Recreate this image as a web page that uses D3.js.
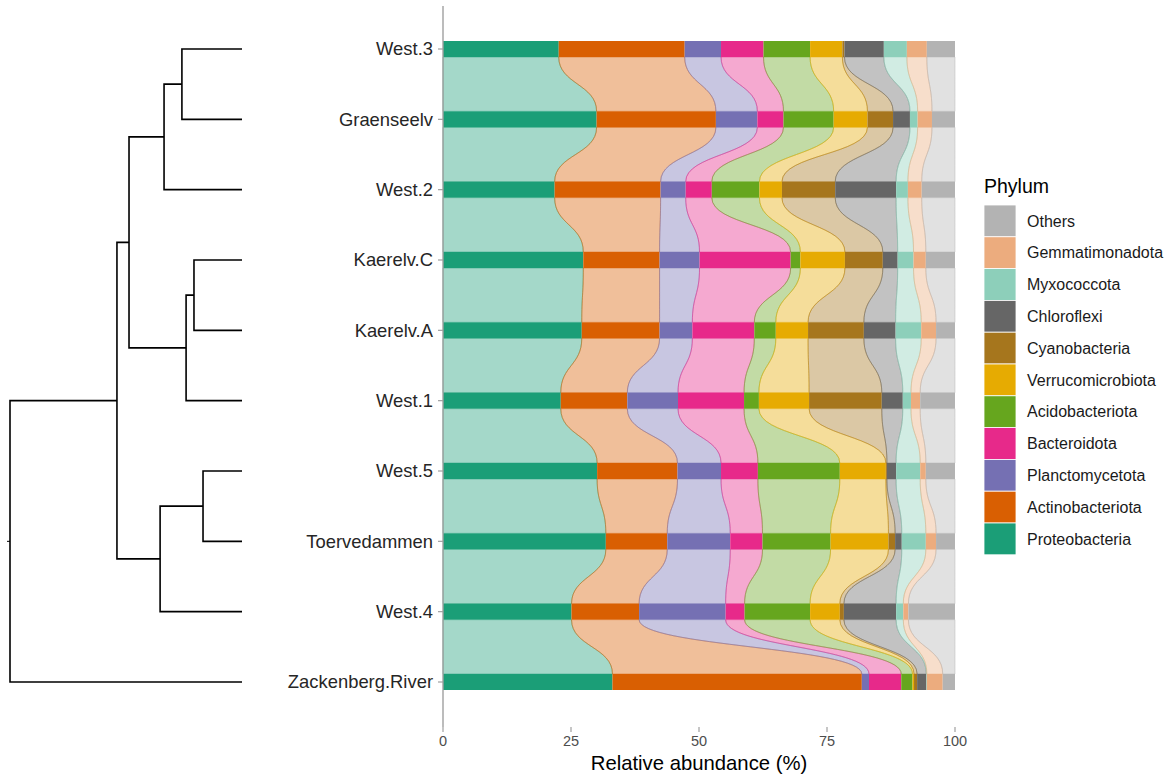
<!DOCTYPE html>
<html>
<head>
<meta charset="utf-8">
<script src="https://cdn.jsdelivr.net/npm/d3@7"></script>
<style>
  html, body { margin: 0; padding: 0; background: #ffffff; }
  svg { display: block; font-family: "Liberation Sans", Arial, Helvetica, sans-serif; }
</style>
</head>
<body>
<svg id="chart" width="1171" height="776"></svg>
<script>
// Samples, top to bottom (dendrogram leaf order)
const samples = ["West.3", "Graenseelv", "West.2", "Kaerelv.C", "Kaerelv.A",
                 "West.1", "West.5", "Toervedammen", "West.4", "Zackenberg.River"];

// Phyla in stacking order (left to right along each bar)
const phyla = ["Proteobacteria", "Actinobacteriota", "Planctomycetota", "Bacteroidota",
               "Acidobacteriota", "Verrucomicrobiota", "Cyanobacteria", "Chloroflexi",
               "Myxococcota", "Gemmatimonadota", "Others"];

const phylumColors = ["#1B9E77", "#D95F02", "#7570B3", "#E7298A", "#66A61E", "#E6AB02",
                      "#A6761D", "#666666", "#8DCFBA", "#ECAC7E", "#B3B3B3"];

// Relative abundance (%) per phylum, one value per sample in the order above
const proteobacteria    = [22.6, 30.0, 21.8, 27.4, 27.1, 23.0, 30.1, 31.8, 25.1, 33.1];
const actinobacteriota  = [24.6, 23.3, 20.7, 14.9, 15.2, 13.0, 15.7, 12.0, 13.2, 48.7];
const planctomycetota   = [ 7.1,  8.1,  4.9,  7.8,  6.4,  9.9,  8.5, 12.3, 16.9,  1.4];
const bacteroidota      = [ 8.3,  5.1,  5.1, 17.8, 12.1, 12.9,  7.2,  6.3,  3.7,  6.3];
const acidobacteriota   = [ 9.1,  9.8,  9.3,  1.9,  4.2,  2.9, 16.0, 13.3, 12.8,  2.2];
const verrucomicrobiota = [ 6.3,  6.6,  4.4,  8.7,  6.3,  9.8,  9.0, 11.3,  5.8,  0.3];
const cyanobacteria     = [ 0.4,  5.0, 10.4,  7.4, 10.9, 14.2,  0.2,  1.3,  0.8,  0.6];
const chloroflexi       = [ 7.7,  3.3, 11.9,  2.9,  6.2,  4.1,  1.8,  1.3, 10.2,  1.8];
const myxococcota       = [ 4.5,  1.5,  2.3,  3.1,  5.0,  1.6,  4.7,  4.7,  1.4,  0.1];
const gemmatimonadota   = [ 3.9,  2.8,  2.7,  2.4,  2.9,  1.8,  1.1,  2.0,  1.0,  3.1];
const others            = [ 5.5,  4.5,  6.5,  5.7,  3.7,  6.8,  5.7,  3.7,  9.1,  2.4];

const xTicks = [0, 25, 50, 75, 100];

// Hierarchical clustering merges: [node id, child A, child B, merge height]
const merges = [
  ["m1", "West.3", "Graenseelv", 0.259],
  ["m2", "m1", "West.2", 0.336],
  ["m3", "Kaerelv.C", "Kaerelv.A", 0.207],
  ["m4", "m3", "West.1", 0.241],
  ["m5", "m2", "m4", 0.487],
  ["m6", "West.5", "Toervedammen", 0.168],
  ["m7", "m6", "West.4", 0.353],
  ["m8", "m5", "m7", 0.539],
  ["root", "m8", "Zackenberg.River", 1.0]
];

// ---- assemble table ----
const seriesValues = [proteobacteria, actinobacteriota, planctomycetota, bacteroidota,
  acidobacteriota, verrucomicrobiota, cyanobacteria, chloroflexi, myxococcota,
  gemmatimonadota, others];
const table = samples.map((s, i) => {
  const row = { sample: s };
  phyla.forEach((p, k) => { row[p] = seriesValues[k][i]; });
  return row;
});
const stacked = d3.stack().keys(phyla)(table);
const color = d3.scaleOrdinal().domain(phyla).range(phylumColors);

const svg = d3.select("#chart");

// ---- scales ----
const x = d3.scaleLinear().domain([0, 100]).range([443, 955]);
const y = d3.scalePoint().domain(samples).range([49, 682]);
const barH = 16;
const panelTop = 6, panelBottom = 727;

// ---- flows between consecutive bars ----
const flowG = svg.append("g");
stacked.forEach(layer => {
  const c = color(layer.key);
  for (let i = 0; i < samples.length - 1; i++) {
    const a = layer[i], b = layer[i + 1];
    const yA = y(samples[i]) + barH / 2;
    const yB = y(samples[i + 1]) - barH / 2;
    const ym = (yA + yB) / 2;
    const p = d3.path();
    p.moveTo(x(a[0]), yA);
    p.bezierCurveTo(x(a[0]), ym, x(b[0]), ym, x(b[0]), yB);
    p.lineTo(x(b[1]), yB);
    p.bezierCurveTo(x(b[1]), ym, x(a[1]), ym, x(a[1]), yA);
    p.closePath();
    flowG.append("path")
      .attr("d", p.toString())
      .attr("fill", c)
      .attr("fill-opacity", 0.4)
      .attr("stroke", c)
      .attr("stroke-opacity", 0.45)
      .attr("stroke-width", 1);
  }
});

// ---- stacked bars ----
const barG = svg.append("g");
stacked.forEach(layer => {
  barG.selectAll(null)
    .data(layer)
    .join("rect")
    .attr("x", d => x(d[0]))
    .attr("y", d => y(d.data.sample) - barH / 2)
    .attr("width", d => Math.max(0, x(d[1]) - x(d[0])))
    .attr("height", barH)
    .attr("fill", color(layer.key));
});

// ---- axes ----
const axisColor = "#a0a0a0";
svg.append("line")
  .attr("x1", 443).attr("x2", 443)
  .attr("y1", panelTop).attr("y2", panelBottom)
  .attr("stroke", axisColor).attr("stroke-width", 1.4);

const yAxisG = svg.append("g");
samples.forEach(s => {
  yAxisG.append("line")
    .attr("x1", 438).attr("x2", 443)
    .attr("y1", y(s)).attr("y2", y(s))
    .attr("stroke", axisColor).attr("stroke-width", 1.2);
  yAxisG.append("text")
    .attr("x", 433).attr("y", y(s))
    .attr("dy", "0.35em")
    .attr("text-anchor", "end")
    .attr("font-size", 18.4)
    .attr("fill", "#262626")
    .text(s);
});

const xAxisG = svg.append("g");
xTicks.forEach(t => {
  xAxisG.append("line")
    .attr("x1", x(t)).attr("x2", x(t))
    .attr("y1", panelBottom).attr("y2", panelBottom + 5)
    .attr("stroke", axisColor).attr("stroke-width", 1.2);
  xAxisG.append("text")
    .attr("x", x(t)).attr("y", 741)
    .attr("dy", "0.35em")
    .attr("text-anchor", "middle")
    .attr("font-size", 14.5)
    .attr("fill", "#4d4d4d")
    .text(t);
});

svg.append("text")
  .attr("x", (x(0) + x(100)) / 2).attr("y", 763)
  .attr("dy", "0.35em")
  .attr("text-anchor", "middle")
  .attr("font-size", 20.3)
  .attr("fill", "#000")
  .text("Relative abundance (%)");

// ---- dendrogram ----
const dx = d3.scaleLinear().domain([0, 1]).range([242, 10]);
const nodes = new Map();
samples.forEach(s => nodes.set(s, { y: y(s), h: 0 }));
const dendroG = svg.append("g")
  .attr("fill", "none").attr("stroke", "#000").attr("stroke-width", 1.6);
merges.forEach(([id, a, b, h]) => {
  const na = nodes.get(a), nb = nodes.get(b);
  const node = { y: (na.y + nb.y) / 2, h: h };
  nodes.set(id, node);
  dendroG.append("path")
    .attr("d", `M${dx(na.h)},${na.y}H${dx(h)}V${nb.y}H${dx(nb.h)}`);
});
const rootNode = nodes.get("root");
dendroG.append("line")
  .attr("x1", dx(rootNode.h) - 3).attr("x2", dx(rootNode.h))
  .attr("y1", rootNode.y).attr("y2", rootNode.y)
  .attr("stroke-width", 1);

// ---- legend ----
const legend = svg.append("g");
legend.append("text")
  .attr("x", 984).attr("y", 186)
  .attr("dy", "0.35em")
  .attr("font-size", 19.5)
  .attr("fill", "#000")
  .text("Phylum");
const legendOrder = phyla.slice().reverse();
const keyH = 31.8, keyTop = 205;
legendOrder.forEach((p, i) => {
  legend.append("rect")
    .attr("x", 984).attr("y", keyTop + i * keyH)
    .attr("width", 32).attr("height", keyH)
    .attr("fill", color(p))
    .attr("stroke", "#ffffff").attr("stroke-width", 0.8);
  legend.append("text")
    .attr("x", 1027).attr("y", keyTop + i * keyH + keyH / 2)
    .attr("dy", "0.35em")
    .attr("font-size", 16)
    .attr("fill", "#1a1a1a")
    .text(p);
});
</script>
</body>
</html>
